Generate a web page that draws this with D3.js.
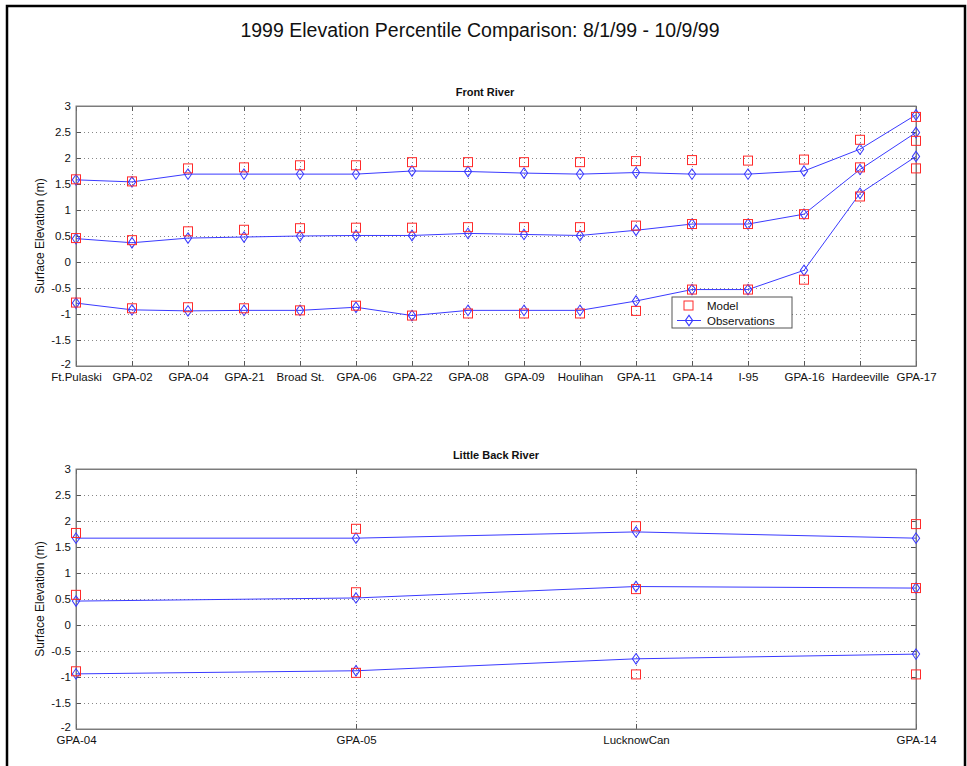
<!DOCTYPE html>
<html lang="en">
<head>
    <meta charset="UTF-8">
    <title>1999 Elevation Percentile Comparison</title>
    <style>
        body { margin: 0; background: #fff; }
        text { font-family: "Liberation Sans", Arial, Helvetica, sans-serif; fill: #111; }
    </style>
</head>
<body>
<script src="https://cdn.jsdelivr.net/npm/d3@7"></script>
<script>
    const width = 967;
    const height = 766;

    // Front River stations
    const frontSites = ["Ft.Pulaski", "GPA-02", "GPA-04", "GPA-21", "Broad St.", "GPA-06", "GPA-22", "GPA-08",
        "GPA-09", "Houlihan", "GPA-11", "GPA-14", "I-95", "GPA-16", "Hardeeville", "GPA-17"];
    const frontModelHigh = [1.59, 1.55, 1.80, 1.82, 1.86, 1.86, 1.92, 1.92, 1.92, 1.92, 1.94, 1.96, 1.95, 1.97, 2.35, 2.79];
    const frontModelMid  = [0.46, 0.42, 0.59, 0.62, 0.65, 0.66, 0.66, 0.67, 0.67, 0.67, 0.70, 0.73, 0.73, 0.92, 1.82, 2.33];
    const frontModelLow  = [-0.78, -0.89, -0.87, -0.89, -0.93, -0.84, -1.03, -0.99, -0.99, -0.99, -0.94, -0.53, -0.53, -0.34, 1.26, 1.80];
    const frontObsHigh = [1.58, 1.54, 1.69, 1.69, 1.69, 1.69, 1.75, 1.74, 1.71, 1.69, 1.72, 1.69, 1.69, 1.75, 2.17, 2.83];
    const frontObsMid  = [0.45, 0.37, 0.46, 0.48, 0.50, 0.51, 0.51, 0.55, 0.53, 0.51, 0.61, 0.73, 0.73, 0.92, 1.78, 2.49];
    const frontObsLow  = [-0.79, -0.92, -0.94, -0.93, -0.93, -0.87, -1.03, -0.93, -0.93, -0.93, -0.75, -0.53, -0.53, -0.16, 1.32, 2.03];

    // Little Back River stations
    const backSites = ["GPA-04", "GPA-05", "LucknowCan", "GPA-14"];
    const backModelHigh = [1.77, 1.85, 1.90, 1.94];
    const backModelMid  = [0.58, 0.63, 0.69, 0.71];
    const backModelLow  = [-0.89, -0.92, -0.95, -0.95];
    const backObsHigh = [1.67, 1.67, 1.79, 1.67];
    const backObsMid  = [0.46, 0.52, 0.74, 0.71];
    const backObsLow  = [-0.94, -0.88, -0.65, -0.56];

    const yTicks = [-2, -1.5, -1, -0.5, 0, 0.5, 1, 1.5, 2, 2.5, 3];

    const modelColor = "#ff2a2a";
    const obsColor = "#3a3aff";

    const svg = d3.select("body").append("svg")
        .attr("width", width)
        .attr("height", height);

    // outer frame
    svg.append("rect")
        .attr("x", 7).attr("y", 6)
        .attr("width", 958).attr("height", 820)
        .attr("fill", "none")
        .attr("stroke", "#000")
        .attr("stroke-width", 2.5);

    svg.append("text")
        .attr("x", 480).attr("y", 37)
        .attr("text-anchor", "middle")
        .attr("font-size", 19.5)
        .text("1999 Elevation Percentile Comparison: 8/1/99 - 10/9/99");

    function drawPanel(opts) {
        const left = 76, w = 840, h = 260;
        const g = svg.append("g").attr("transform", `translate(${left},${opts.top})`);

        const x = d3.scalePoint().domain(opts.sites).range([0, w]);
        const y = d3.scaleLinear().domain([-2, 3]).range([h, 0]);

        // grid
        g.append("g")
            .call(d3.axisLeft(y).tickValues(yTicks).tickSize(-w).tickFormat(""))
            .call(a => a.select(".domain").remove())
            .selectAll("line")
            .attr("stroke", "#888")
            .attr("stroke-dasharray", "1,3");
        g.append("g")
            .call(d3.axisBottom(x).tickSize(h).tickFormat(""))
            .call(a => a.select(".domain").remove())
            .selectAll("line")
            .attr("stroke", "#888")
            .attr("stroke-dasharray", "1,3");

        // axes with inward ticks
        g.append("g")
            .call(d3.axisLeft(y).tickValues(yTicks).tickSizeInner(-5).tickSizeOuter(0).tickPadding(5)
                .tickFormat(d => String(d)))
            .call(a => a.selectAll("text").attr("font-size", 11.5).attr("fill", "#111"))
            .call(a => a.selectAll(".tick").filter(d => d === -2).select("text").attr("dy", "0.1em"));
        g.append("g").attr("transform", `translate(${w},0)`)
            .call(d3.axisRight(y).tickValues(yTicks).tickSizeInner(-5).tickSizeOuter(0).tickFormat(""));
        g.append("g").attr("transform", `translate(0,${h})`)
            .call(d3.axisBottom(x).tickSizeInner(-5).tickSizeOuter(0).tickPadding(7))
            .call(a => a.selectAll("text").attr("font-size", 11.5).attr("fill", "#111"));
        g.append("g")
            .call(d3.axisTop(x).tickSizeInner(-5).tickSizeOuter(0).tickFormat(""));
        g.selectAll(".domain").attr("stroke", "#777");
        g.selectAll(".tick line").filter(function () { return !this.getAttribute("stroke-dasharray"); })
            .attr("stroke", "#555");

        g.append("rect")
            .attr("width", w).attr("height", h)
            .attr("fill", "none").attr("stroke", "#808080");

        g.append("text")
            .attr("x", w / 2 + opts.titleDx).attr("y", -10)
            .attr("text-anchor", "middle")
            .attr("font-size", 11)
            .attr("font-weight", "bold")
            .text(opts.title);

        g.append("text")
            .attr("transform", `translate(-32,${h / 2}) rotate(-90)`)
            .attr("text-anchor", "middle")
            .attr("font-size", 12)
            .text("Surface Elevation (m)");

        const line = d3.line().x((d, i) => x(opts.sites[i])).y(d => y(d));
        const diamond = d3.symbol().type(d3.symbolDiamond).size(32);

        opts.obs.forEach(series => {
            g.append("path")
                .datum(series)
                .attr("d", line)
                .attr("fill", "none")
                .attr("stroke", obsColor)
                .attr("stroke-width", 1);
        });
        opts.obs.forEach(series => {
            g.append("g").selectAll("path")
                .data(series)
                .join("path")
                .attr("transform", (d, i) => `translate(${x(opts.sites[i])},${y(d)}) scale(1.2,1)`)
                .attr("d", diamond)
                .attr("fill", "none")
                .attr("stroke", obsColor)
                .attr("stroke-width", 0.9);
        });
        opts.model.forEach(series => {
            g.append("g").selectAll("rect")
                .data(series)
                .join("rect")
                .attr("x", (d, i) => x(opts.sites[i]) - 4.5)
                .attr("y", d => y(d) - 4.5)
                .attr("width", 9).attr("height", 9)
                .attr("fill", "none")
                .attr("stroke", modelColor);
        });

        if (opts.legend) {
            const lg = svg.append("g").attr("transform", "translate(672,297)");
            lg.append("rect")
                .attr("width", 120).attr("height", 31)
                .attr("fill", "#fff").attr("stroke", "#555");
            lg.append("rect")
                .attr("x", 12).attr("y", 4).attr("width", 9).attr("height", 9)
                .attr("fill", "none").attr("stroke", modelColor);
            lg.append("text").attr("x", 35).attr("y", 12.5).attr("font-size", 11.5).text("Model");
            lg.append("line")
                .attr("x1", 5).attr("x2", 29).attr("y1", 23.5).attr("y2", 23.5)
                .attr("stroke", obsColor);
            lg.append("path")
                .attr("transform", "translate(17,23.5) scale(1.2,1)")
                .attr("d", diamond)
                .attr("fill", "none").attr("stroke", obsColor);
            lg.append("text").attr("x", 35).attr("y", 27.5).attr("font-size", 11.5).text("Observations");
        }
    }

    drawPanel({
        top: 106,
        sites: frontSites,
        title: "Front River",
        titleDx: -11,
        model: [frontModelHigh, frontModelMid, frontModelLow],
        obs: [frontObsHigh, frontObsMid, frontObsLow],
        legend: true
    });

    drawPanel({
        top: 469,
        sites: backSites,
        title: "Little Back River",
        titleDx: 0,
        model: [backModelHigh, backModelMid, backModelLow],
        obs: [backObsHigh, backObsMid, backObsLow],
        legend: false
    });
</script>
</body>
</html>
